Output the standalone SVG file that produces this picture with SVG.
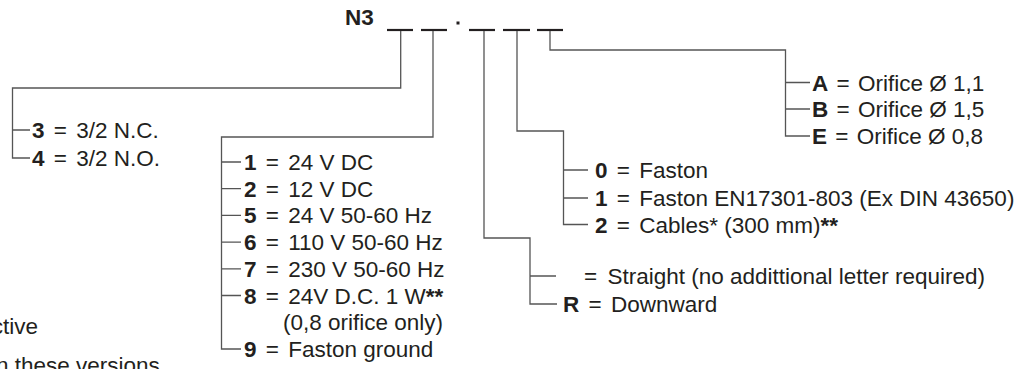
<svg xmlns="http://www.w3.org/2000/svg" width="1019" height="369" viewBox="0 0 1019 369">
<style>
text{font-family:"Liberation Sans",Arial,sans-serif;font-size:22.5px;fill:#231f20}
.b{font-weight:bold}
.ln{fill:none;stroke:#555;stroke-width:1.3}
.us{stroke:#231f20;stroke-width:2.2}
</style>
<rect width="1019" height="369" fill="#fff"/>
<g id="code">
<text x="345" y="25" class="b" font-size="25">N3</text>
<line class="us" x1="387" y1="30" x2="413" y2="30"/>
<line class="us" x1="421" y1="30" x2="447" y2="30"/>
<rect x="456.5" y="21.5" width="3" height="3" fill="#231f20"/>
<line class="us" x1="469" y1="30" x2="495" y2="30"/>
<line class="us" x1="503" y1="30" x2="530" y2="30"/>
<line class="us" x1="537" y1="30" x2="563" y2="30"/>
</g>
<g id="connectors">
<path class="ln" d="M400.7 31V88H12.5V158H30M12.5 130H30"/>
<path class="ln" d="M433 31V137H221.5V349H241M221.5 162H241M221.5 188.7H241M221.5 215.4H241M221.5 242.1H241M221.5 268.8H241M221.5 295.5H241"/>
<path class="ln" d="M484 31V238H530V304H557M530 276H556"/>
<path class="ln" d="M517 31V131H563.5V224.5H588M563.5 170H588M563.5 198H588"/>
<path class="ln" d="M550 31V50H785.5V136H810M785.5 82.5H810M785.5 109H810"/>
</g>
<g id="valve-type">
<text x="32" y="137.5"><tspan class="b">3</tspan><tspan dx="3"> = </tspan><tspan dx="3">3/2 N.C.</tspan></text>
<text x="32" y="165.5"><tspan class="b">4</tspan><tspan dx="3"> = </tspan><tspan dx="3">3/2 N.O.</tspan></text>
</g>
<g id="voltage">
<text x="244" y="170"><tspan class="b">1</tspan><tspan dx="3"> = </tspan><tspan dx="3">24 V DC</tspan></text>
<text x="244" y="196.7"><tspan class="b">2</tspan><tspan dx="3"> = </tspan><tspan dx="3">12 V DC</tspan></text>
<text x="244" y="223.4"><tspan class="b">5</tspan><tspan dx="3"> = </tspan><tspan dx="3">24 V 50-60 Hz</tspan></text>
<text x="244" y="250.1"><tspan class="b">6</tspan><tspan dx="3"> = </tspan><tspan dx="3">110 V 50-60 Hz</tspan></text>
<text x="244" y="276.8"><tspan class="b">7</tspan><tspan dx="3"> = </tspan><tspan dx="3">230 V 50-60 Hz</tspan></text>
<text x="244" y="303.5"><tspan class="b">8</tspan><tspan dx="3"> = </tspan><tspan dx="3">24V D.C. 1 W</tspan><tspan class="b">**</tspan></text>
<text x="283" y="330.2">(0,8 orifice only)</text>
<text x="244" y="357"><tspan class="b">9</tspan><tspan dx="3"> = </tspan><tspan dx="3">Faston ground</tspan></text>
</g>
<g id="orientation">
<text x="584" y="284">= <tspan dx="4">Straight (no addittional letter required)</tspan></text>
<text x="563" y="312"><tspan class="b">R</tspan><tspan dx="3"> = </tspan><tspan dx="3">Downward</tspan></text>
</g>
<g id="connection">
<text x="595" y="178"><tspan class="b">0</tspan><tspan dx="3"> = </tspan><tspan dx="3">Faston</tspan></text>
<text x="595" y="206"><tspan class="b">1</tspan><tspan dx="3"> = </tspan><tspan dx="3">Faston EN17301-803 (Ex DIN 43650)</tspan></text>
<text x="595" y="232.5"><tspan class="b">2</tspan><tspan dx="3"> = </tspan><tspan dx="3">Cables* (300 mm)</tspan><tspan class="b">**</tspan></text>
</g>
<g id="orifice">
<text x="812" y="90.5"><tspan class="b">A</tspan><tspan dx="2"> = </tspan><tspan dx="2">Orifice Ø 1,1</tspan></text>
<text x="812" y="117"><tspan class="b">B</tspan><tspan dx="2"> = </tspan><tspan dx="2">Orifice Ø 1,5</tspan></text>
<text x="812" y="144"><tspan class="b">E</tspan><tspan dx="2"> = </tspan><tspan dx="2">Orifice Ø 0,8</tspan></text>
</g>
<g id="notes">
<text x="38" y="334" text-anchor="end">ctive</text>
<text x="-4" y="373">n these versions</text>
</g>
</svg>
